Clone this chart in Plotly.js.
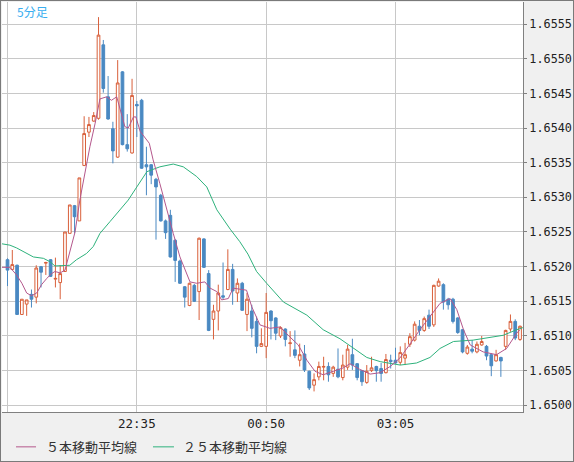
<!DOCTYPE html>
<html>
<head>
<meta charset="utf-8">
<script src="https://cdn.plot.ly/plotly-3.0.1.min.js"></script>
<style>
html,body{margin:0;padding:0;background:#f0f0f0;}
#chart{width:572px;height:460px;border:1px solid #7a7a7a;}
</style>
</head>
<body>
<div id="chart"></div>
<script>
// 5-minute bars starting 20:20
const startTime = "2024-01-15 20:20";
const tickTimes = ["2024-01-15 20:20", "2024-01-15 22:35", "2024-01-16 00:50", "2024-01-16 03:05"];
const tickLabels = ["", "22:35", "00:50", "03:05"];

const open = [1.65210,1.65196,1.65202,1.65131,1.65146,1.65160,1.65156,1.65200,1.65205,1.65210,
1.65182,1.65177,1.65193,1.65248,1.65288,1.65266,1.65346,1.65394,1.65410,1.65414,
1.65520,1.65445,1.65399,1.65358,1.65481,1.65376,1.65364,1.65434,1.65440,1.65347,
1.65347,1.65326,1.65303,1.65266,1.65274,1.65238,1.65208,1.65171,1.65144,1.65173,
1.65164,1.65240,1.65190,1.65124,1.65136,1.65158,1.65167,1.65196,1.65162,1.65176,
1.65131,1.65136,1.65121,1.65085,1.65085,1.65136,1.65126,1.65100,1.65110,1.65089,
1.65080,1.65065,1.65074,1.65049,1.65029,1.65041,1.65055,1.65056,1.65046,1.65052,
1.65040,1.65055,1.65073,1.65060,1.65050,1.65033,1.65050,1.65056,1.65053,1.65047,
1.65065,1.65065,1.65062,1.65068,1.65088,1.65094,1.65114,1.65108,1.65130,1.65116,
1.65172,1.65174,1.65153,1.65153,1.65126,1.65109,1.65075,1.65081,1.65077,1.65087,
1.65085,1.65073,1.65064,1.65069,1.65085,1.65110,1.65121,1.65095];

const high = [1.65212,1.65224,1.65203,1.65153,1.65152,1.65167,1.65202,1.65201,1.65207,1.65211,
1.65213,1.65202,1.65250,1.65289,1.65289,1.65328,1.65417,1.65416,1.65423,1.65560,
1.65527,1.65475,1.65409,1.65498,1.65482,1.65420,1.65471,1.65439,1.65442,1.65373,
1.65348,1.65328,1.65305,1.65268,1.65282,1.65240,1.65210,1.65172,1.65177,1.65175,
1.65242,1.65241,1.65195,1.65145,1.65174,1.65206,1.65225,1.65204,1.65183,1.65178,
1.65162,1.65145,1.65128,1.65111,1.65162,1.65137,1.65127,1.65114,1.65111,1.65107,
1.65108,1.65089,1.65087,1.65050,1.65046,1.65063,1.65070,1.65062,1.65057,1.65082,
1.65073,1.65087,1.65096,1.65061,1.65051,1.65058,1.65070,1.65057,1.65061,1.65074,
1.65073,1.65083,1.65085,1.65090,1.65104,1.65121,1.65123,1.65128,1.65138,1.65174,
1.65183,1.65176,1.65155,1.65155,1.65127,1.65110,1.65087,1.65094,1.65092,1.65100,
1.65087,1.65075,1.65080,1.65070,1.65109,1.65131,1.65124,1.65115];

const low = [1.65172,1.65195,1.65131,1.65131,1.65129,1.65141,1.65147,1.65170,1.65188,1.65185,
1.65170,1.65153,1.65193,1.65248,1.65248,1.65266,1.65345,1.65387,1.65409,1.65412,
1.65451,1.65412,1.65349,1.65357,1.65375,1.65366,1.65363,1.65387,1.65341,1.65303,
1.65319,1.65239,1.65265,1.65240,1.65213,1.65178,1.65175,1.65141,1.65143,1.65149,
1.65123,1.65198,1.65107,1.65095,1.65108,1.65153,1.65166,1.65145,1.65149,1.65136,
1.65107,1.65098,1.65075,1.65084,1.65068,1.65095,1.65094,1.65097,1.65085,1.65070,
1.65068,1.65056,1.65048,1.65022,1.65020,1.65036,1.65036,1.65034,1.65041,1.65039,
1.65036,1.65051,1.65051,1.65036,1.65028,1.65031,1.65048,1.65034,1.65034,1.65046,
1.65053,1.65060,1.65058,1.65058,1.65084,1.65092,1.65101,1.65106,1.65110,1.65113,
1.65171,1.65138,1.65138,1.65118,1.65103,1.65075,1.65073,1.65075,1.65075,1.65086,
1.65065,1.65042,1.65063,1.65041,1.65080,1.65106,1.65094,1.65093];

const close = [1.65195,1.65203,1.65131,1.65153,1.65152,1.65153,1.65198,1.65192,1.65206,1.65186,
1.65183,1.65190,1.65250,1.65289,1.65272,1.65328,1.65392,1.65405,1.65418,1.65534,
1.65457,1.65413,1.65367,1.65465,1.65376,1.65370,1.65447,1.65432,1.65342,1.65344,
1.65332,1.65315,1.65266,1.65249,1.65214,1.65209,1.65176,1.65156,1.65176,1.65150,
1.65241,1.65199,1.65108,1.65136,1.65162,1.65156,1.65196,1.65165,1.65176,1.65137,
1.65153,1.65111,1.65085,1.65089,1.65134,1.65122,1.65104,1.65112,1.65095,1.65090,
1.65072,1.65073,1.65051,1.65025,1.65037,1.65056,1.65056,1.65044,1.65055,1.65041,
1.65058,1.65081,1.65058,1.65040,1.65034,1.65049,1.65054,1.65050,1.65046,1.65066,
1.65063,1.65061,1.65076,1.65073,1.65099,1.65117,1.65108,1.65125,1.65114,1.65173,
1.65179,1.65149,1.65145,1.65121,1.65105,1.65077,1.65084,1.65078,1.65088,1.65092,
1.65071,1.65057,1.65073,1.65064,1.65108,1.65121,1.65097,1.65114];

// moving-average lines (bar position, value)
const ma5Pos = [-1.2,0.5,1.9,3.0,4.0,5.0,6.1,7.1,8.2,9.2,
9.9,11.0,12.0,13.0,14.1,15.1,16.2,17.2,18.3,19.3,
20.7,21.7,22.8,23.5,24.5,25.2,26.3,26.8,27.7,29.6,
30.4,31.8,33.2,34.6,36.0,38.1,39.5,41.2,42.3,43.7,
44.7,46.1,47.1,48.5,49.9,51.0,52.7,54.8,56.9,58.6,
60.7,62.5,64.2,65.9,68.0,70.1,71.5,73.5,75.7,77.8,
79.9,81.9,84.0,86.1,88.2,90.3,92.4,93.8,95.2,96.6,
99.3,102.1,104.2,106.3,107.0];
const ma5Val = [1.65199,1.65199,1.65188,1.65176,1.65162,1.65158,1.65162,1.65174,1.65183,1.65190,
1.65193,1.65191,1.65195,1.65222,1.65250,1.65296,1.65339,1.65373,1.65407,1.65442,
1.65445,1.65440,1.65445,1.65426,1.65402,1.65400,1.65416,1.65416,1.65395,1.65378,
1.65354,1.65320,1.65282,1.65248,1.65214,1.65178,1.65176,1.65178,1.65169,1.65164,
1.65152,1.65154,1.65169,1.65167,1.65166,1.65142,1.65116,1.65111,1.65113,1.65101,
1.65087,1.65065,1.65049,1.65044,1.65049,1.65054,1.65060,1.65052,1.65045,1.65047,
1.65056,1.65068,1.65088,1.65109,1.65128,1.65147,1.65154,1.65138,1.65109,1.65087,
1.65077,1.65073,1.65082,1.65104,1.65109];

const ma25Pos = [-1.2,0.5,1.9,3.65,5.4,7.5,8.9,9.9,12.0,13.0,
14.4,16.5,17.9,19.3,21.4,23.5,25.2,27.0,29.1,31.8,
34.6,36.7,39.5,41.6,43.7,46.5,48.5,50.2,52.0,54.1,
57.6,62.5,65.9,69.4,72.2,75.0,77.8,82.0,85.4,88.2,
90.3,93.1,97.2,100.7,103.5,106.3,107.6];
const ma25Val = [1.65233,1.65231,1.65227,1.65220,1.65214,1.65212,1.65207,1.65201,1.65201,1.65202,
1.65210,1.65219,1.65229,1.65248,1.65265,1.65282,1.65296,1.65315,1.65337,1.65344,
1.65348,1.65344,1.65330,1.65315,1.65282,1.65254,1.65236,1.65218,1.65193,1.65176,
1.65149,1.65130,1.65109,1.65096,1.65082,1.65069,1.65063,1.65058,1.65061,1.65069,
1.65082,1.65092,1.65094,1.65098,1.65101,1.65109,1.65112];

const legendNames = ["５本移動平均線", "２５本移動平均線"];
const chartTitle = "5分足";

const BAR_MS = 5 * 60 * 1000;
const t0 = Date.parse(startTime.replace(" ", "T") + ":00Z");
function timeAt(pos) {
  const d = new Date(t0 + Math.round(pos * BAR_MS));
  return d.toISOString().replace("T", " ").slice(0, 19);
}
const times = open.map((_, i) => timeAt(i));

const upColor = "#d9603b";
const downColor = "#4a89c2";

const traces = [
  {
    type: "candlestick",
    x: times, open: open, high: high, low: low, close: close,
    increasing: {line: {color: upColor, width: 1}, fillcolor: "#ffffff"},
    decreasing: {line: {color: downColor, width: 1}, fillcolor: downColor},
    whiskerwidth: 0,
    hoverinfo: "skip",
    showlegend: false
  },
  {
    type: "scatter", mode: "lines",
    x: ma25Pos.map(timeAt), y: ma25Val,
    line: {color: "#2eb27c", width: 1},
    hoverinfo: "skip", showlegend: false
  },
  {
    type: "scatter", mode: "lines",
    x: ma5Pos.map(timeAt), y: ma5Val,
    line: {color: "#b4578c", width: 1},
    hoverinfo: "skip", showlegend: false
  }
];

const xTickFont = {family: "DejaVu Sans Mono, monospace", size: 12.5, color: "#222222"};
const yTickFont = {family: "DejaVu Sans Mono, monospace", size: 11.8, color: "#222222"};
const jpFont = {family: "Noto Sans CJK JP, sans-serif", size: 13, color: "#333333"};

const layout = {
  width: 572, height: 460,
  margin: {l: 1, r: 50, t: 1, b: 49},
  paper_bgcolor: "#f0f0f0",
  plot_bgcolor: "#ffffff",
  showlegend: false,
  boxgap: 0.25, boxgroupgap: 0.25,
  xaxis: {
    type: "date",
    range: [timeAt(-1.148), timeAt(107.62)],
    tickvals: tickTimes, ticktext: tickLabels,
    showgrid: true, gridcolor: "#c8c8c8", gridwidth: 1,
    showline: true, linecolor: "#808080", linewidth: 1,
    ticks: "", tickfont: xTickFont,
    rangeslider: {visible: false},
    zeroline: false, fixedrange: true
  },
  yaxis: {
    side: "right",
    range: [1.649903, 1.655818],
    tick0: 1.65, dtick: 0.0005, tickformat: ".4f",
    showgrid: true, gridcolor: "#c8c8c8", gridwidth: 1,
    showline: true, linecolor: "#808080", linewidth: 1,
    ticks: "outside", ticklen: 3, tickcolor: "#808080",
    tickfont: yTickFont,
    zeroline: false, fixedrange: true
  },
  shapes: [
    {type: "line", xref: "paper", yref: "paper", x0: 0.0269, x1: 0.0653, y0: -0.085, y1: -0.085,
     line: {color: "#b4578c", width: 1}},
    {type: "line", xref: "paper", yref: "paper", x0: 0.2898, x1: 0.3301, y0: -0.085, y1: -0.085,
     line: {color: "#2eb27c", width: 1}}
  ],
  annotations: [
    {xref: "paper", yref: "paper", x: 0.025, y: 0.978, xanchor: "left", yanchor: "middle",
     text: chartTitle, showarrow: false,
     font: {family: "Noto Sans CJK JP, sans-serif", size: 12, color: "#38aef0"}},
    {xref: "paper", yref: "paper", x: 0.0805, y: -0.085, xanchor: "left", yanchor: "middle",
     text: legendNames[0], showarrow: false, font: jpFont},
    {xref: "paper", yref: "paper", x: 0.3435, y: -0.085, xanchor: "left", yanchor: "middle",
     text: legendNames[1], showarrow: false, font: jpFont}
  ]
};

Plotly.newPlot("chart", traces, layout, {staticPlot: true, displayModeBar: false});
</script>
</body>
</html>
